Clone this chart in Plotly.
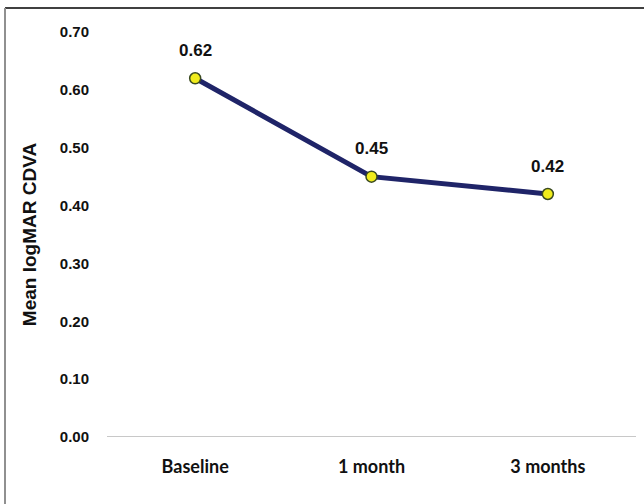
import plotly.graph_objects as go

categories = ["Baseline", "1 month", "3 months"]
values = [0.62, 0.45, 0.42]
value_labels = ["0.62", "0.45", "0.42"]
y_ticks = [0.0, 0.1, 0.2, 0.3, 0.4, 0.5, 0.6, 0.7]
y_tick_labels = ["0.00", "0.10", "0.20", "0.30", "0.40", "0.50", "0.60", "0.70"]

L, R, T, B = 107, 8, 32, 67
PW, PH = 644 - L - R, 504 - T - B

fig = go.Figure()
fig.add_trace(go.Scatter(
    x=categories, y=values, mode="lines+markers",
    line=dict(color="#1f2468", width=5),
    marker=dict(size=11, color="#f0ec1c", line=dict(color="#3a4a20", width=1.5)),
    showlegend=False, cliponaxis=False,
))

for c, v, t in zip(categories, values, value_labels):
    fig.add_annotation(x=c, y=v, text=t, showarrow=False, yshift=28,
                       font=dict(family="Liberation Sans", size=17, color="#111", weight="bold"))

fig.update_layout(
    width=644, height=504,
    margin=dict(l=L, r=R, t=T, b=B),
    paper_bgcolor="white", plot_bgcolor="white",
    xaxis=dict(type="category", range=[-0.5, 2.5], showgrid=False, showline=False,
               zeroline=False, ticks="", ticklabelstandoff=17,
               tickfont=dict(family="Lato", size=18, color="#111", weight="bold")),
    yaxis=dict(range=[0, 0.7], tickvals=y_ticks, ticktext=y_tick_labels,
               showgrid=False, showline=False, zeroline=False, ticks="",
               ticklabelstandoff=17,
               tickfont=dict(family="Liberation Sans", size=15, color="#111", weight="bold"),
               title=dict(text="Mean logMAR CDVA", standoff=18,
                          font=dict(family="Liberation Sans", size=19, color="#111", weight="bold"))),
    shapes=[
        dict(type="line", xref="paper", yref="y", x0=0, x1=1, y0=0, y1=0,
             line=dict(color="#c8c8c8", width=2), layer="below"),
        dict(type="line", xref="paper", yref="paper", x0=(5 - L) / PW, x1=(644 - L) / PW,
             y0=(504 - B - 8) / PH, y1=(504 - B - 8) / PH,
             line=dict(color="#404040", width=2)),
        dict(type="line", xref="paper", yref="paper", x0=(5 - L) / PW, x1=(5 - L) / PW,
             y0=(504 - B - 8) / PH, y1=-B / PH,
             line=dict(color="#909090", width=2)),
    ],
)

fig.write_html("out.html", config={"displayModeBar": False},
               post_script="document.body.style.margin='0';document.body.style.padding='0';")
